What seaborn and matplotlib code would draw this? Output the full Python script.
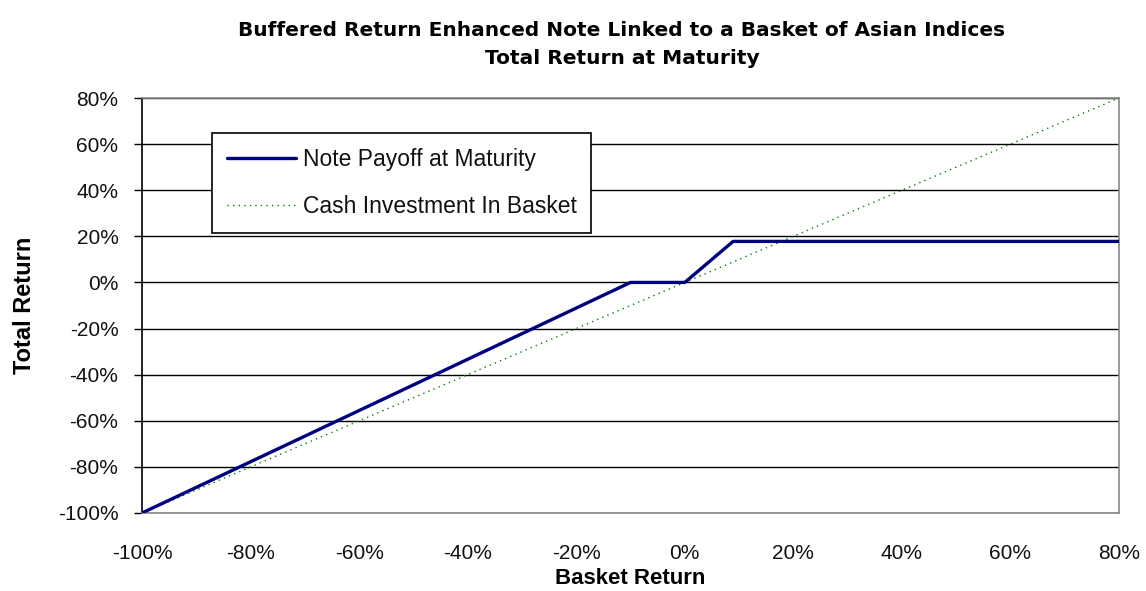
import matplotlib
matplotlib.use("Agg")
import matplotlib.pyplot as plt
import seaborn as sns
import pandas as pd
from matplotlib.ticker import FuncFormatter

sns.set_theme(style="white")
plt.rcParams['font.family'] = ['Liberation Sans', 'DejaVu Sans']
plt.rcParams['text.color'] = 'black'
plt.rcParams['axes.labelcolor'] = 'black'

# Data (percent)
note_x = [-100, -10, 0, 8.9, 80]
note_y = [-100, 0, 0, 17.8, 17.8]
cash_x = [-100, 80]
cash_y = [-100, 80]

ticks = [-100, -80, -60, -40, -20, 0, 20, 40, 60, 80]

note_df = pd.DataFrame({"x": note_x, "y": note_y})
cash_df = pd.DataFrame({"x": cash_x, "y": cash_y})

fig = plt.figure(figsize=(11.46, 5.91), dpi=100)
ax = fig.add_axes([142/1146, 1 - 513/591, 977/1146, 415/591])

for t in ticks:
    ax.axhline(t, color="black", lw=1.0, zorder=1)

sns.lineplot(data=cash_df, x="x", y="y", ax=ax, color="#008000",
             lw=1.0, linestyle=(0, (1, 3)), label="Cash Investment In Basket", zorder=2)
sns.lineplot(data=note_df, x="x", y="y", ax=ax, color="#000080",
             lw=2.4, label="Note Payoff at Maturity", zorder=3)

ax.set_xlim(-100, 80)
ax.set_ylim(-100, 80)
ax.set_xticks(ticks)
ax.set_yticks(ticks)
fmt = FuncFormatter(lambda v, p: f"{v:.0f}%")
ax.xaxis.set_major_formatter(fmt)
ax.yaxis.set_major_formatter(fmt)
ax.tick_params(axis="both", labelsize=15, labelcolor="#111111")
ax.tick_params(axis="y", left=True, length=6, width=1, color="black", pad=11)
ax.tick_params(axis="x", bottom=False, length=0, pad=22)

for s in ["top", "right", "bottom"]:
    ax.spines[s].set_color("#888888")
    ax.spines[s].set_linewidth(1.2)
ax.spines["left"].set_color("black")
ax.spines["left"].set_linewidth(1.2)

ax.set_xlabel("Basket Return", fontsize=16, fontweight="bold", va="center")
ax.xaxis.set_label_coords(0.5, (513 - 578) / 415)
ax.set_ylabel("Total Return", fontsize=17, fontweight="bold", va="center")
ax.yaxis.set_label_coords((25 - 142) / 977, 0.5)

handles, labels = ax.get_legend_handles_labels()
order = [labels.index("Note Payoff at Maturity"), labels.index("Cash Investment In Basket")]
leg = ax.legend([handles[i] for i in order], [labels[i] for i in order],
                loc="upper left", bbox_to_anchor=(0.0717, 0.916),
                fontsize=16.5, frameon=True, fancybox=False, framealpha=1,
                edgecolor="black", handlelength=3.0, handletextpad=0.3,
                borderpad=0.65, labelspacing=1.05, borderaxespad=0,
                labelcolor="#111111")
leg.get_frame().set_linewidth(1.2)
leg.set_zorder(5)

fig.text(622/1146, 1 - 31/591, "Buffered Return Enhanced Note Linked to a Basket of Asian Indices",
         ha="center", va="center", fontsize=14.5, fontweight="bold", family="DejaVu Sans", color="black")
fig.text(622/1146, 1 - 59/591, "Total Return at Maturity",
         ha="center", va="center", fontsize=14.5, fontweight="bold", family="DejaVu Sans", color="black")

fig.savefig("out.png", dpi=100)
